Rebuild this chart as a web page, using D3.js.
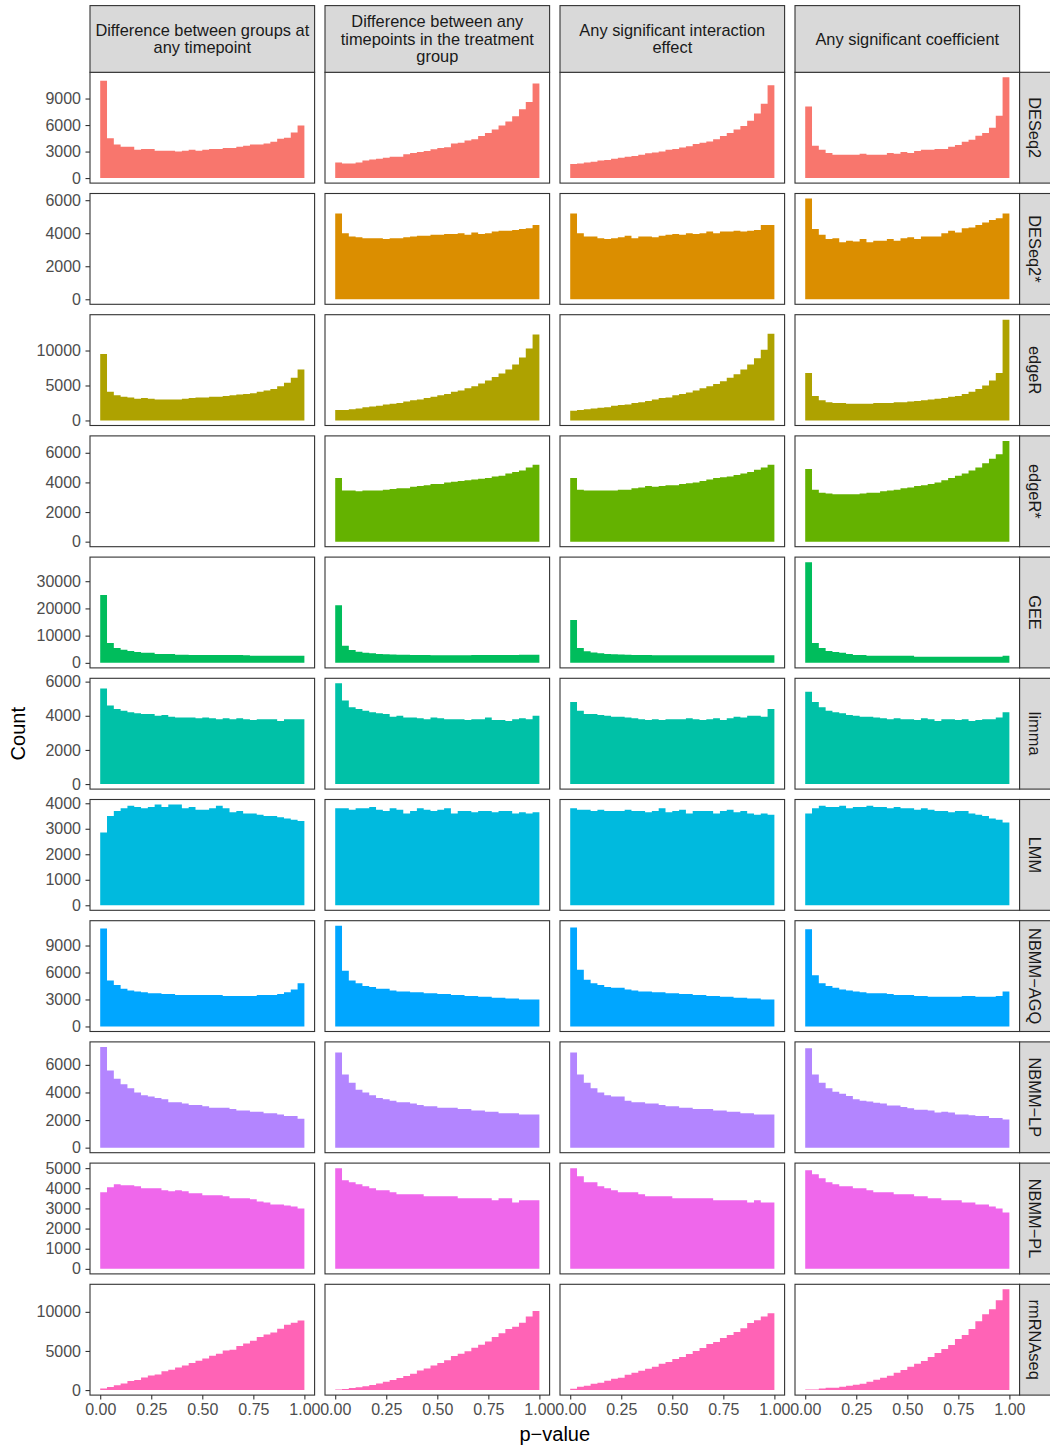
<!DOCTYPE html>
<html lang="en">
<head>
<meta charset="UTF-8">
<title>p-value histograms</title>
<script src="https://d3js.org/d3.v7.min.js"></script>
<style>
  body { margin: 0; background: #fff; }
  svg { display: block; font-family: "Liberation Sans", Arial, Helvetica, sans-serif; }
</style>
</head>
<body>
<svg width="1050" height="1448"></svg>
<script>
// facet labels
const tests = [
  ["Difference between groups at", "any timepoint"],
  ["Difference between any", "timepoints in the treatment", "group"],
  ["Any significant interaction", "effect"],
  ["Any significant coefficient"]
];
const methods = ["DESeq2", "DESeq2*", "edgeR", "edgeR*", "GEE", "limma", "LMM",
                 "NBMM\u2212AGQ", "NBMM\u2212LP", "NBMM\u2212PL", "rmRNAseq"];
const colors = ["#F8766D", "#DB8E00", "#AEA200", "#64B200", "#00BD5C", "#00C1A7",
                "#00BADE", "#00A6FF", "#B385FF", "#EF67EB", "#FF63B6"];
const yTicks = [
  [0, 3000, 6000, 9000],
  [0, 2000, 4000, 6000],
  [0, 5000, 10000],
  [0, 2000, 4000, 6000],
  [0, 10000, 20000, 30000],
  [0, 2000, 4000, 6000],
  [0, 1000, 2000, 3000, 4000],
  [0, 3000, 6000, 9000],
  [0, 2000, 4000, 6000],
  [0, 1000, 2000, 3000, 4000, 5000],
  [0, 5000, 10000]
];
const xTicks = [0, 0.25, 0.5, 0.75, 1];
const nBins = 30;

// bin counts (30 bins over p in [0,1]), one list per test column; null = no panel data
const deseq2 = [
  [11000, 4500, 3800, 3550, 3550, 3200, 3300, 3300, 3100, 3100, 3100, 3000, 3100, 3200, 3100, 3200, 3300, 3300, 3400, 3400, 3550, 3650, 3800, 3800, 3900, 4100, 4450, 4550, 5150, 5950],
  [1750, 1650, 1650, 1750, 2000, 2100, 2200, 2300, 2400, 2400, 2700, 2850, 2950, 3050, 3250, 3400, 3500, 3900, 4000, 4250, 4400, 4750, 5100, 5500, 5950, 6400, 7000, 7800, 8600, 10700],
  [1600, 1650, 1750, 1850, 2000, 2050, 2200, 2300, 2400, 2500, 2650, 2800, 2900, 3000, 3200, 3300, 3450, 3600, 3850, 4000, 4150, 4400, 4750, 5100, 5500, 5900, 6500, 7300, 8400, 10500],
  [8100, 3650, 3200, 2850, 2650, 2650, 2650, 2650, 2750, 2650, 2650, 2650, 2850, 2750, 2950, 2850, 3050, 3200, 3200, 3300, 3300, 3550, 3750, 4100, 4350, 4800, 5100, 5700, 7050, 11400]
];
const deseq2star = [
  null,
  [5200, 4000, 3800, 3750, 3700, 3700, 3700, 3650, 3700, 3700, 3750, 3800, 3850, 3850, 3900, 3900, 3950, 3950, 4000, 3900, 4050, 3950, 4000, 4100, 4150, 4150, 4200, 4250, 4300, 4500],
  [5200, 4000, 3800, 3800, 3700, 3650, 3700, 3750, 3850, 3700, 3800, 3800, 3750, 3850, 3900, 3950, 3900, 4000, 3950, 4000, 4100, 4000, 4100, 4100, 4150, 4100, 4150, 4200, 4500, 4500],
  [6100, 4250, 3900, 3650, 3700, 3450, 3550, 3500, 3650, 3450, 3550, 3550, 3650, 3550, 3700, 3750, 3650, 3800, 3800, 3800, 4000, 4150, 4050, 4300, 4350, 4500, 4650, 4800, 4900, 5200]
];
const edger = [
  [9500, 4100, 3600, 3400, 3300, 3100, 3200, 3100, 3000, 3000, 3000, 3000, 3100, 3200, 3300, 3300, 3400, 3400, 3500, 3600, 3700, 3800, 3900, 4100, 4300, 4500, 4900, 5400, 6100, 7300],
  [1500, 1500, 1600, 1700, 1900, 2000, 2100, 2300, 2400, 2500, 2700, 2900, 3000, 3200, 3400, 3600, 3800, 4100, 4300, 4600, 4900, 5300, 5700, 6200, 6700, 7300, 8000, 9000, 10300, 12300],
  [1400, 1500, 1600, 1700, 1800, 1900, 2100, 2200, 2300, 2500, 2600, 2800, 3000, 3200, 3300, 3600, 3800, 4000, 4300, 4600, 4900, 5200, 5600, 6100, 6600, 7300, 8000, 8900, 10100, 12400],
  [6800, 3500, 2900, 2600, 2500, 2500, 2400, 2400, 2400, 2400, 2500, 2500, 2500, 2600, 2600, 2700, 2800, 2900, 3000, 3100, 3200, 3400, 3500, 3800, 4100, 4500, 5000, 5700, 6800, 14400]
];
const edgerstar = [
  null,
  [4300, 3450, 3450, 3400, 3450, 3450, 3450, 3500, 3550, 3600, 3600, 3700, 3750, 3800, 3900, 3900, 4000, 4050, 4100, 4150, 4200, 4250, 4300, 4400, 4450, 4600, 4700, 4800, 5000, 5200],
  [4300, 3500, 3450, 3450, 3450, 3450, 3450, 3500, 3500, 3600, 3650, 3750, 3700, 3750, 3800, 3800, 3900, 3950, 4000, 4100, 4200, 4300, 4350, 4400, 4500, 4600, 4700, 4850, 5000, 5200],
  [4900, 3500, 3300, 3250, 3200, 3200, 3200, 3200, 3250, 3300, 3300, 3400, 3450, 3500, 3600, 3650, 3750, 3800, 3900, 4000, 4150, 4300, 4450, 4600, 4800, 5000, 5300, 5600, 5900, 6800]
];
const gee = [
  [24900, 7300, 5500, 4800, 4400, 4000, 3700, 3700, 3300, 3300, 3300, 3000, 3000, 2900, 2900, 2900, 2900, 2900, 2900, 2900, 2900, 2800, 2600, 2600, 2600, 2600, 2600, 2600, 2600, 2600],
  [21200, 6300, 4700, 4100, 3700, 3500, 3300, 3200, 3100, 3000, 3000, 2900, 2900, 2900, 2800, 2800, 2800, 2800, 2800, 2800, 2900, 2900, 2900, 2900, 2900, 2900, 2900, 3000, 3000, 3000],
  [15700, 5500, 4300, 3800, 3500, 3300, 3200, 3100, 3000, 2900, 2900, 2900, 2800, 2800, 2800, 2800, 2800, 2800, 2800, 2800, 2800, 2800, 2800, 2800, 2800, 2800, 2800, 2800, 2800, 2800],
  [37000, 7300, 5500, 4400, 4000, 3700, 3300, 2900, 2900, 2600, 2600, 2600, 2600, 2600, 2600, 2600, 2200, 2200, 2200, 2200, 2200, 2200, 2200, 2200, 2200, 2200, 2200, 2200, 2200, 2600]
];
const limma = [
  [5600, 4600, 4400, 4300, 4200, 4150, 4100, 4100, 4000, 4050, 3950, 3900, 3900, 3900, 3850, 3900, 3850, 3800, 3850, 3800, 3850, 3800, 3750, 3800, 3800, 3800, 3700, 3800, 3800, 3800],
  [5900, 4900, 4500, 4400, 4300, 4200, 4150, 4100, 3950, 4000, 3900, 3900, 3850, 3800, 3900, 3850, 3800, 3800, 3800, 3750, 3800, 3800, 3900, 3750, 3750, 3700, 3800, 3850, 3800, 4000],
  [4800, 4300, 4100, 4100, 4050, 4000, 3950, 3950, 3900, 3850, 3800, 3750, 3800, 3750, 3800, 3800, 3800, 3850, 3800, 3750, 3800, 3850, 3750, 3850, 3950, 3900, 4000, 4000, 3950, 4400],
  [5400, 4800, 4500, 4300, 4200, 4150, 4050, 4000, 3950, 3950, 3900, 3850, 3800, 3850, 3800, 3800, 3750, 3850, 3800, 3700, 3800, 3800, 3750, 3800, 3700, 3750, 3800, 3800, 3900, 4200]
];
const lmm = [
  [2850, 3500, 3700, 3800, 3900, 3850, 3800, 3850, 3950, 3850, 3950, 3950, 3800, 3850, 3750, 3750, 3800, 3900, 3800, 3650, 3700, 3600, 3600, 3550, 3500, 3500, 3450, 3400, 3350, 3300],
  [3800, 3800, 3750, 3800, 3800, 3850, 3750, 3700, 3800, 3750, 3600, 3700, 3800, 3750, 3700, 3750, 3800, 3600, 3700, 3700, 3650, 3700, 3700, 3650, 3700, 3700, 3600, 3650, 3600, 3650],
  [3800, 3750, 3750, 3700, 3750, 3700, 3700, 3700, 3750, 3700, 3700, 3650, 3700, 3800, 3650, 3700, 3750, 3600, 3700, 3700, 3700, 3600, 3700, 3750, 3650, 3700, 3600, 3550, 3600, 3550],
  [3600, 3800, 3900, 3850, 3850, 3900, 3800, 3850, 3850, 3900, 3850, 3850, 3800, 3850, 3800, 3800, 3750, 3800, 3750, 3700, 3700, 3650, 3700, 3700, 3600, 3550, 3500, 3400, 3350, 3250]
];
const nbmmAgq = [
  [10900, 5100, 4600, 4200, 4000, 3900, 3800, 3700, 3700, 3600, 3600, 3500, 3500, 3500, 3500, 3500, 3500, 3500, 3400, 3400, 3400, 3400, 3400, 3500, 3500, 3500, 3600, 3800, 4100, 4800],
  [11200, 6200, 5100, 4800, 4500, 4400, 4200, 4200, 4000, 3900, 3900, 3800, 3800, 3700, 3700, 3600, 3600, 3500, 3500, 3400, 3400, 3300, 3300, 3200, 3200, 3100, 3100, 3000, 3000, 3000],
  [11000, 6300, 5200, 4800, 4600, 4400, 4300, 4300, 4100, 4000, 3900, 3900, 3800, 3800, 3700, 3700, 3600, 3600, 3500, 3500, 3400, 3400, 3300, 3300, 3200, 3200, 3100, 3100, 3000, 3000],
  [10800, 5700, 4800, 4500, 4300, 4100, 4000, 3900, 3800, 3700, 3700, 3700, 3600, 3500, 3500, 3500, 3400, 3400, 3300, 3300, 3300, 3300, 3300, 3400, 3400, 3300, 3300, 3300, 3400, 3900]
];
const nbmmLp = [
  [7300, 5600, 5000, 4600, 4300, 4000, 3800, 3700, 3600, 3500, 3300, 3300, 3200, 3100, 3100, 3000, 2900, 2900, 2900, 2800, 2700, 2700, 2600, 2600, 2500, 2500, 2400, 2300, 2300, 2100],
  [6900, 5300, 4700, 4200, 4000, 3800, 3600, 3500, 3400, 3300, 3300, 3200, 3100, 3000, 3000, 2900, 2900, 2900, 2800, 2800, 2700, 2700, 2600, 2600, 2500, 2500, 2500, 2400, 2400, 2400],
  [6900, 5300, 4700, 4300, 4000, 3800, 3700, 3700, 3400, 3300, 3300, 3200, 3200, 3100, 3000, 3000, 2900, 2900, 2800, 2800, 2800, 2700, 2700, 2600, 2600, 2500, 2500, 2400, 2400, 2400],
  [7200, 5300, 4700, 4300, 4050, 3900, 3750, 3500, 3400, 3350, 3250, 3200, 3050, 3050, 2950, 2850, 2750, 2750, 2700, 2550, 2600, 2550, 2400, 2400, 2350, 2300, 2300, 2150, 2150, 2050]
];
const nbmmPl = [
  [3800, 4050, 4200, 4150, 4150, 4100, 4000, 4000, 4000, 3900, 3850, 3900, 3850, 3750, 3750, 3650, 3650, 3650, 3600, 3500, 3500, 3500, 3450, 3350, 3300, 3200, 3200, 3150, 3100, 3000],
  [5000, 4400, 4300, 4200, 4100, 4000, 3900, 3900, 3800, 3700, 3700, 3700, 3700, 3600, 3600, 3600, 3600, 3600, 3500, 3500, 3500, 3500, 3500, 3400, 3500, 3500, 3300, 3400, 3400, 3400],
  [5000, 4600, 4300, 4300, 4100, 4000, 3900, 3800, 3800, 3800, 3700, 3600, 3600, 3600, 3600, 3500, 3500, 3500, 3500, 3500, 3500, 3400, 3400, 3400, 3400, 3400, 3300, 3400, 3300, 3300],
  [4900, 4700, 4500, 4300, 4200, 4100, 4100, 4000, 4000, 3900, 3800, 3800, 3800, 3700, 3700, 3700, 3600, 3600, 3500, 3500, 3400, 3400, 3400, 3300, 3300, 3200, 3200, 3100, 3000, 2800]
];
const rmrnaseq = [
  [200, 380, 600, 850, 1150, 1300, 1600, 1850, 2000, 2400, 2600, 2900, 3150, 3450, 3750, 4050, 4400, 4650, 5050, 5150, 5650, 5950, 6300, 6800, 7100, 7350, 7850, 8350, 8600, 8900],
  [80, 150, 250, 350, 500, 650, 850, 1050, 1300, 1550, 1800, 2100, 2500, 2750, 3150, 3450, 3800, 4350, 4650, 4950, 5400, 5800, 6200, 6800, 7250, 7800, 8100, 8600, 9400, 10100],
  [170, 420, 550, 800, 930, 1190, 1440, 1570, 1950, 2200, 2460, 2710, 2970, 3350, 3600, 3980, 4240, 4620, 5000, 5380, 5890, 6140, 6650, 7030, 7420, 7920, 8560, 8940, 9400, 9830],
  [80, 80, 200, 300, 300, 430, 550, 680, 800, 1060, 1310, 1570, 1820, 2200, 2580, 2970, 3350, 3730, 4240, 4750, 5250, 5760, 6530, 7030, 7800, 8810, 9700, 10340, 11480, 12880]
];
const counts = [deseq2, deseq2star, edger, edgerstar, gee, limma, lmm, nbmmAgq, nbmmLp, nbmmPl, rmrnaseq];

// layout
const svg = d3.select("svg");
const panelW = 224.6, panelH = 110.8, gap = 10.4;
const leftX = 90, topY = 72.3, stripTop = 5.6;
const rightStripW = 32;
const textCol = "#4D4D4D", lineCol = "#333333";
const stripFont = "16.4px", tickFont = "16px", titleFont = "20px";

const x = d3.scaleLinear().domain([-0.05, 1.05]).range([0, panelW]);

methods.forEach(function (method, r) {
  const rowData = counts[r];
  const maxV = d3.max(rowData.filter(d => d), d => d3.max(d));
  const y = d3.scaleLinear().domain([-0.05 * maxV, 1.05 * maxV]).range([panelH, 0]);
  const py = topY + r * (panelH + gap);

  rowData.forEach(function (vals, c) {
    const px = leftX + c * (panelW + gap);
    const g = svg.append("g").attr("transform", "translate(" + px + "," + py + ")");
    g.append("rect").attr("width", panelW).attr("height", panelH).attr("fill", "#fff");

    if (vals) {
      // one outline path per histogram so neighbouring bars have no seams
      const path = d3.path();
      path.moveTo(x(0), y(0));
      vals.forEach(function (v, i) {
        path.lineTo(x(i / nBins), y(v));
        path.lineTo(x((i + 1) / nBins), y(v));
      });
      path.lineTo(x(1), y(0));
      path.closePath();
      g.append("path").attr("d", path.toString()).attr("fill", colors[r]);
    }

    g.append("rect").attr("width", panelW).attr("height", panelH)
      .attr("fill", "none").attr("stroke", lineCol).attr("stroke-width", 1.1);

    // y axis on first column
    if (c === 0) {
      const ax = g.append("g").call(d3.axisLeft(y).tickValues(yTicks[r])
        .tickFormat(d3.format("d")).tickSize(4.5).tickPadding(4.5));
      ax.select(".domain").remove();
      ax.selectAll(".tick line").attr("stroke", lineCol).attr("stroke-width", 1.1);
      ax.selectAll(".tick text").attr("fill", textCol).style("font-size", tickFont)
        .style("font-family", "'Liberation Sans', Arial, sans-serif");
    }
    // x axis on bottom row
    if (r === methods.length - 1) {
      const ax = g.append("g").attr("transform", "translate(0," + panelH + ")")
        .call(d3.axisBottom(x).tickValues(xTicks).tickFormat(d3.format(".2f"))
          .tickSize(4.5).tickPadding(4.5));
      ax.select(".domain").remove();
      ax.selectAll(".tick line").attr("stroke", lineCol).attr("stroke-width", 1.1);
      ax.selectAll(".tick text").attr("fill", textCol).style("font-size", tickFont)
        .style("font-family", "'Liberation Sans', Arial, sans-serif");
    }
    // top strips
    if (r === 0) {
      const sh = topY - stripTop;
      const sg = svg.append("g").attr("transform", "translate(" + px + "," + stripTop + ")");
      sg.append("rect").attr("width", panelW).attr("height", sh)
        .attr("fill", "#D9D9D9").attr("stroke", lineCol).attr("stroke-width", 1.1);
      const lines = tests[c];
      const lh = 17.5;
      lines.forEach(function (t, k) {
        sg.append("text")
          .attr("x", panelW / 2)
          .attr("y", sh / 2 + (k - (lines.length - 1) / 2) * lh)
          .attr("dy", "0.35em")
          .attr("text-anchor", "middle")
          .attr("fill", "#1A1A1A")
          .style("font-size", stripFont)
          .text(t);
      });
    }
  });

  // right strip
  const sx = leftX + 4 * panelW + 3 * gap;
  const rg = svg.append("g").attr("transform", "translate(" + sx + "," + py + ")");
  rg.append("rect").attr("width", rightStripW).attr("height", panelH)
    .attr("fill", "#D9D9D9").attr("stroke", lineCol).attr("stroke-width", 1.1);
  rg.append("text")
    .attr("transform", "translate(" + 15.5 + "," + panelH / 2 + ") rotate(90)")
    .attr("dy", "0.35em")
    .attr("text-anchor", "middle")
    .attr("fill", "#1A1A1A")
    .style("font-size", stripFont)
    .text(method);
});

// axis titles
const plotBottom = topY + methods.length * panelH + (methods.length - 1) * gap;
svg.append("text")
  .attr("x", leftX + (4 * panelW + 3 * gap) / 2)
  .attr("y", plotBottom + 39)
  .attr("dy", "0.35em")
  .attr("text-anchor", "middle")
  .style("font-size", titleFont)
  .text("p\u2212value");
svg.append("text")
  .attr("transform", "translate(18," + (topY + (plotBottom - topY) / 2) + ") rotate(-90)")
  .attr("dy", "0.35em")
  .attr("text-anchor", "middle")
  .style("font-size", titleFont)
  .text("Count");
</script>
</body>
</html>
